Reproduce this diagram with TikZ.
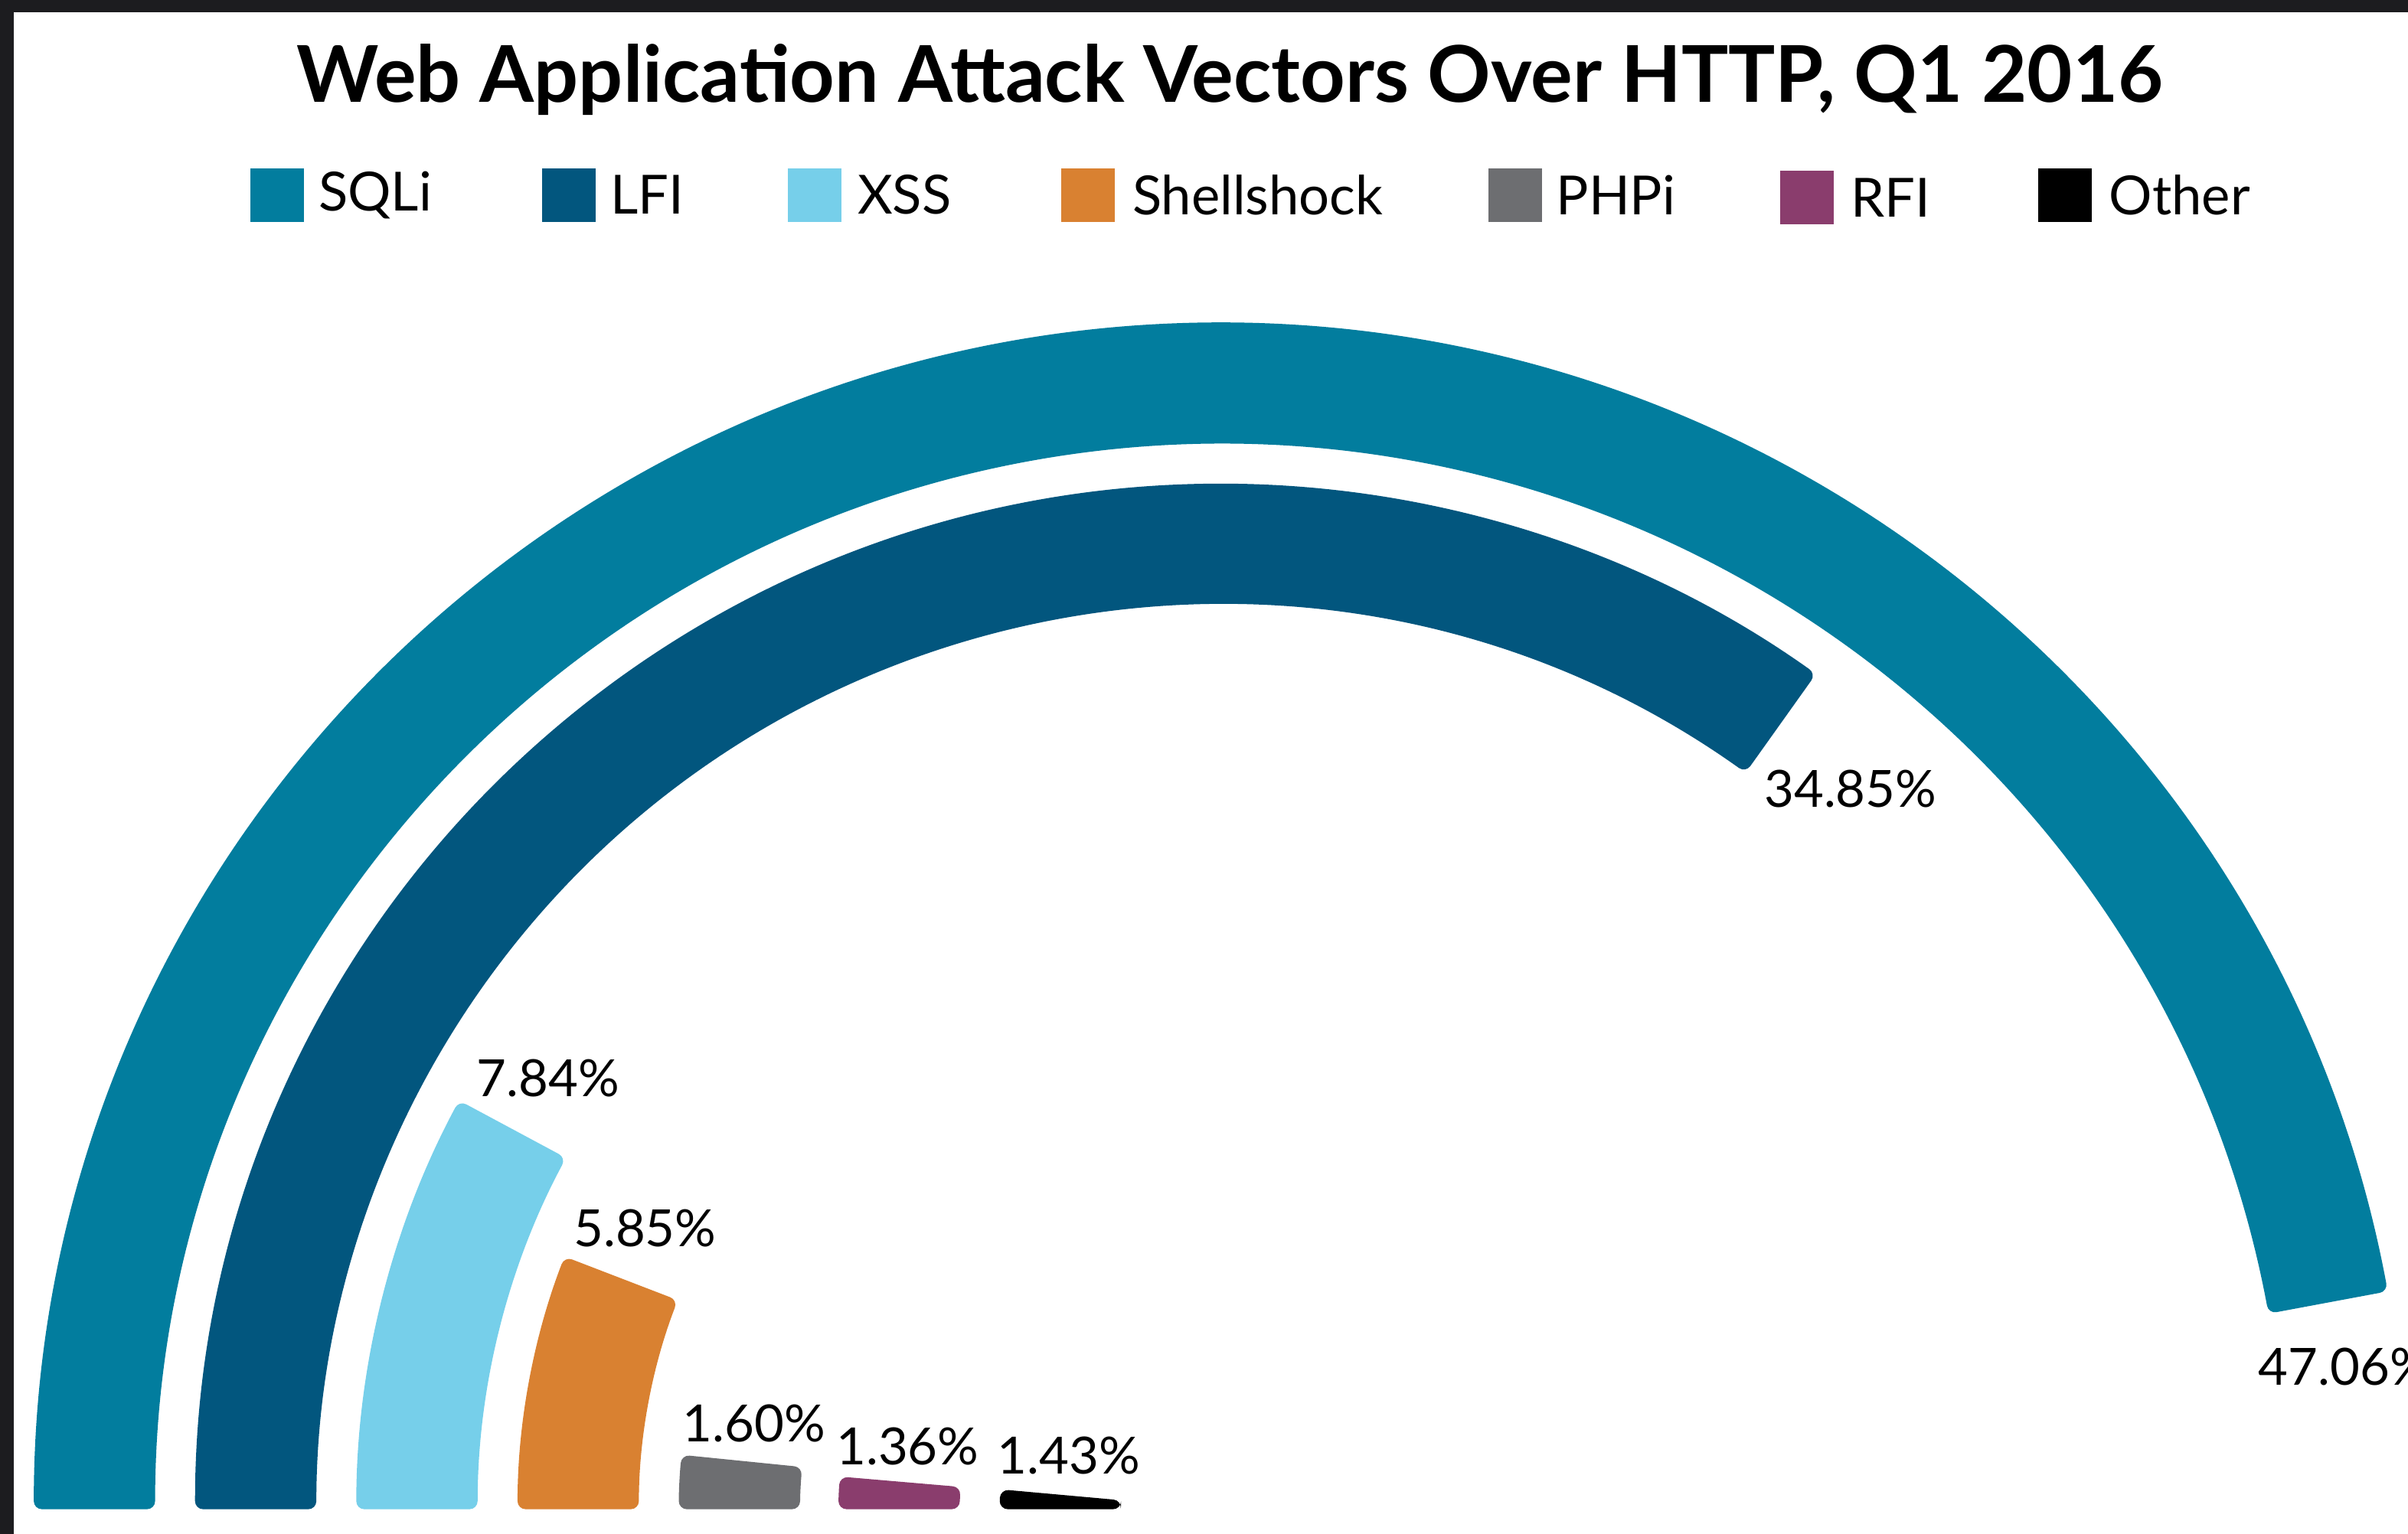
\documentclass[tikz,border=0pt]{standalone}
\usepackage{fontspec}
\setmainfont{Lato}
\usepackage{tikz}
\usetikzlibrary{positioning}
\definecolor{sqli}{HTML}{027D9E}
\definecolor{lfi}{HTML}{02567E}
\definecolor{xss}{HTML}{76CFEA}
\definecolor{shell}{HTML}{D98131}
\definecolor{phpi}{HTML}{6D6E71}
\definecolor{rfi}{HTML}{8A3D6D}
\definecolor{frame}{HTML}{1C1C1F}

\begin{document}
\begin{tikzpicture}[x=0.01cm, y=0.01cm,
    key/.style={minimum size=0.35cm, inner sep=0pt},
    keytext/.style={inner sep=0pt, font=\fontsize{10}{12}\selectfont},
    bar/.style={rounded corners=1.5pt},
    value/.style={inner sep=0pt, font=\fontsize{9.5}{11}\selectfont}
]
    % Frame
    \useasboundingbox (0,0) rectangle (1568,999);
    \fill [frame] (0,0) rectangle (1568,999);
    \fill [white] (9,0) rectangle (1568,991);
    % Title
    \node [font=\bfseries\fontsize{14.5}{17}\selectfont] (Title) at (801,947)
    {Web Application Attack Vectors Over HTTP, Q1 2016};
    % Legend
    \node [key, fill=sqli] (KeySQLi) at (180.5,872) {};
    \node [keytext, right=0.08cm of KeySQLi] (TextSQLi) {SQLi};
    \node [key, fill=lfi] (KeyLFI) at (370.5,872) {};
    \node [keytext, right=0.08cm of KeyLFI] (TextLFI) {LFI};
    \node [key, fill=xss] (KeyXSS) at (530.5,872) {};
    \node [keytext, right=0.09cm of KeyXSS] (TextXSS) {XSS};
    \node [key, fill=shell] (KeyShell) at (708.5,872) {};
    \node [keytext, right=0.1cm of KeyShell] (TextShell) {Shellshock};
    \node [key, fill=phpi] (KeyPHPi) at (986.5,872) {};
    \node [keytext, right=0.08cm of KeyPHPi] (TextPHPi) {PHPi};
    \node [key, fill=rfi] (KeyRFI) at (1176.5,870.5) {};
    \node [keytext, right=0.1cm of KeyRFI] (TextRFI) {RFI};
    \node [key, fill=black] (KeyOther) at (1344.5,872) {};
    \node [keytext, right=0.1cm of KeyOther] (TextOther) {Other};
    % Bars
    \coordinate (Centre) at (795,16);
    \fill [bar, sqli, shift={(Centre)}] (180:773)
        arc[start angle=180, end angle=10.58, radius=773] -- (10.58:694)
        arc[start angle=10.58, end angle=180, radius=694] -- cycle;
    \fill [bar, lfi, shift={(Centre)}] (180:668)
        arc[start angle=180, end angle=54.54, radius=668] -- (54.54:589)
        arc[start angle=54.54, end angle=180, radius=589] -- cycle;
    \fill [bar, xss, shift={(Centre)}] (180:563)
        arc[start angle=180, end angle=151.78, radius=563] -- (151.78:484)
        arc[start angle=151.78, end angle=180, radius=484] -- cycle;
    \fill [bar, shell, shift={(Centre)}] (180:458)
        arc[start angle=180, end angle=158.94, radius=458] -- (158.94:379)
        arc[start angle=158.94, end angle=180, radius=379] -- cycle;
    \fill [bar, phpi, shift={(Centre)}] (180:353)
        arc[start angle=180, end angle=174.24, radius=353] -- (174.24:274)
        arc[start angle=174.24, end angle=180, radius=274] -- cycle;
    \fill [bar, rfi, shift={(Centre)}] (180:249)
        arc[start angle=180, end angle=175.10, radius=249] -- (175.10:170)
        arc[start angle=175.10, end angle=180, radius=170] -- cycle;
    \fill [bar, black, shift={(Centre)}] (180:144)
        arc[start angle=180, end angle=174.85, radius=144] -- (174.85:65)
        arc[start angle=174.85, end angle=180, radius=65] -- cycle;
    % Values
    \node [value, anchor=west] (ValSQLi) at (1470,109) {47.06\%};
    \node [value] (ValLFI) at (1205,485) {34.85\%};
    \node [value] (ValXSS) at (357,297) {7.84\%};
    \node [value] (ValShell) at (420,199) {5.85\%};
    \node [value] (ValPHPi) at (491,72) {1.60\%};
    \node [value] (ValRFI) at (591,57) {1.36\%};
    \node [value] (ValOther) at (696,51) {1.43\%};

\end{tikzpicture}
\end{document}
